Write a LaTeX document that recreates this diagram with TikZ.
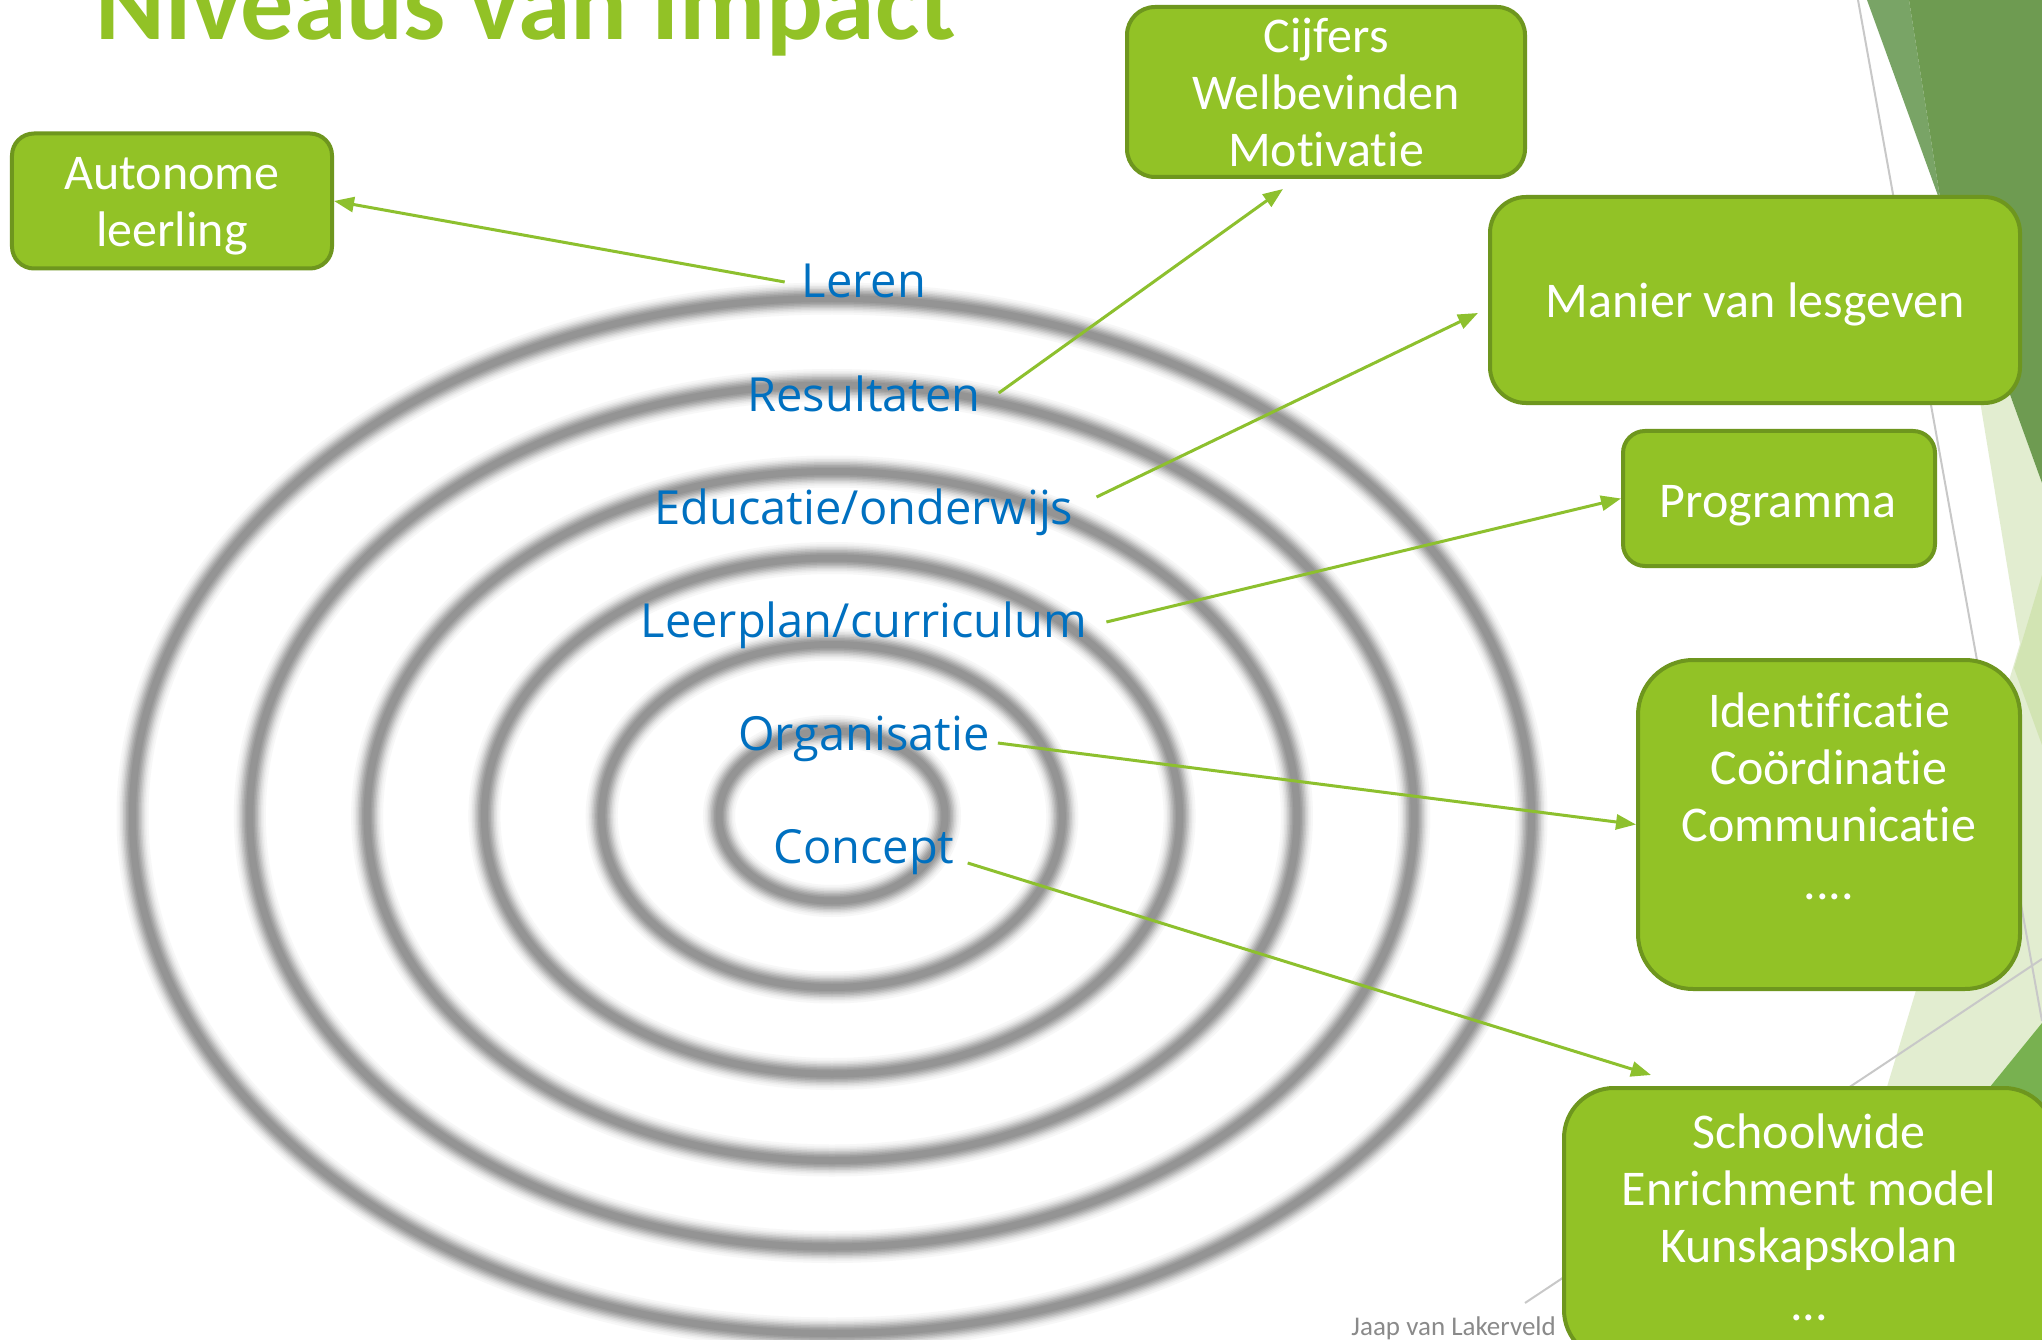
\documentclass[tikz,border=0pt]{standalone}
\usepackage{fontspec}
\setmainfont{Carlito}[Ligatures=NoCommon]
\newfontfamily\lblfont{Open Sans}
\usetikzlibrary{arrows.meta,calc}
\definecolor{boxgreen}{HTML}{92C226}
\definecolor{boxborder}{HTML}{6E961E}
\definecolor{arrowgreen}{HTML}{8DC02E}
\definecolor{lblblue}{HTML}{0070C0}
\definecolor{darkgreen}{HTML}{6E9B51}
\definecolor{darkgreenb}{HTML}{79A466}
\definecolor{palegreen}{HTML}{E2EDD0}
\definecolor{midpale}{HTML}{D2E4B3}
\definecolor{midgreen}{HTML}{78B150}
\definecolor{linegray}{HTML}{C8C8C8}
\definecolor{authgray}{HTML}{8A8A8A}
\begin{document}
\begin{tikzpicture}[x=1bp,y=-1bp,
  gbox/.style={draw=boxborder, line width=4bp, fill=boxgreen, rectangle},
  btext/.style={text=white, inner sep=0pt, align=center, anchor=base,
    font=\fontsize{50bp}{57.3bp}\selectfont},
  lbl/.style={text=lblblue, inner sep=0pt, anchor=base,
    font=\lblfont\fontsize{47bp}{50bp}\selectfont},
  conn/.style={draw=arrowgreen, line width=3bp, -{Triangle[length=20bp,width=15bp]}},
  deco/.style={draw=linegray, line width=2bp},
]
\useasboundingbox (0,0) rectangle (2042,1340);
\fill[white] (0,0) rectangle (2042,1340);

% background decoration (right side)
\fill[palegreen] (1953,237) -- (2042,483) -- (2042,1340) -- (1811,1340) -- (2020,644) -- cycle;
\fill[midpale] (2042,575) -- (2014,668) -- (2042,745) -- cycle;
\fill[midgreen] (2042,1023) -- (2042,1340) -- (1784,1340) -- cycle;
\fill[darkgreenb] (1867,0) -- (1909,0) -- (1941,204) -- cycle;
\fill[darkgreen] (1909,0) -- (2042,0) -- (2042,483) -- (1941,204) -- cycle;
\draw[deco] (1858,0) -- (2042,1021);
\draw[deco] (2042,959) -- (1525,1303);

% blurred rings
\foreach \w/\c in {32/3,28/6,25/10,22/15,19/21,16/27,13/33,10/38,7/42}{
  \foreach \k in {0,...,5}{
    \pgfmathsetmacro\rx{113+117.3*\k}
    \pgfmathsetmacro\ry{85+86.5*\k}
    \draw[line width=\w bp, black!\c] (832,816) ellipse [x radius=\rx, y radius=\ry];
  }
}

% title
\node[anchor=base, inner sep=0pt, text=boxgreen,
  font=\bfseries\fontsize{106bp}{110bp}\selectfont] (title) at (526,40) {Niveaus van Impact};

% level labels
\node[lbl] (lLeren) at (864,298) {Leren};
\node[lbl] (lRes) at (864,411) {Resultaten};
\node[lbl] (lEdu) at (864,524) {Educatie/onderwijs};
\node[lbl] (lLeer) at (864,637) {Leerplan/curriculum};
\node[lbl] (lOrg) at (864,750) {Organisatie};
\node[lbl] (lCon) at (864,863) {Concept};

% boxes
\node[gbox, rounded corners=22bp, minimum width=320bp, minimum height=135bp] (auton) at (172,201) {};
\node[btext] at (172,247) {Autonome\\leerling};
\node[gbox, rounded corners=28bp, minimum width=398bp, minimum height=170bp] (cijf) at (1326,92) {};
\node[btext] at (1326,167) {Cijfers\\Welbevinden\\Motivatie};
\node[gbox, rounded corners=36bp, minimum width=530bp, minimum height=206bp] (man) at (1755,300) {};
\node[btext] at (1755,318) {Manier van lesgeven};
\node[gbox, rounded corners=22bp, minimum width=312bp, minimum height=135bp] (prog) at (1779,498.5) {};
\node[btext] at (1778,517) {Programma};
\node[gbox, rounded corners=55bp, minimum width=382bp, minimum height=329bp] (ident) at (1829,824.5) {};
\node[btext] at (1829,899) {Identificatie\\Coördinatie\\Communicatie\\....};
\node[gbox, rounded corners=50bp, minimum width=490bp, minimum height=272bp] (school) at (1809,1224) {};
\node[btext] at (1809,1320) {Schoolwide\\Enrichment model\\Kunskapskolan\\...};

% author
\node[anchor=base east, inner sep=0pt, text=authgray,
  font=\fontsize{27bp}{30bp}\selectfont] (auth) at (1556,1335) {Jaap van Lakerveld};

% connector end points
\coordinate (sLeren) at ($(lLeren.base west)+(-17,-16)$);
\coordinate (sRes) at ($(lRes.base east)+(18,-18)$);
\coordinate (sEdu) at ($(lEdu.base east)+(23,-27)$);
\coordinate (sLeer) at ($(lLeer.base east)+(19,-15)$);
\coordinate (sOrg) at ($(lOrg.base east)+(8,-7)$);
\coordinate (sCon) at ($(lCon.base east)+(13,0)$);
\coordinate (tCijf) at ($(cijf.south)+(-43,10)$);
\coordinate (tMan) at ($(man.west)+(-10,13)$);
\coordinate (tSchool) at ($(school.north west)+(89,-11)$);

\draw[conn] (sLeren) -- (auton.east);
\draw[conn] (sRes) -- (tCijf);
\draw[conn] (sEdu) -- (tMan);
\draw[conn] (sLeer) -- (prog.west);
\draw[conn] (sOrg) -- (ident.west);
\draw[conn] (sCon) -- (tSchool);
\end{tikzpicture}
\end{document}
